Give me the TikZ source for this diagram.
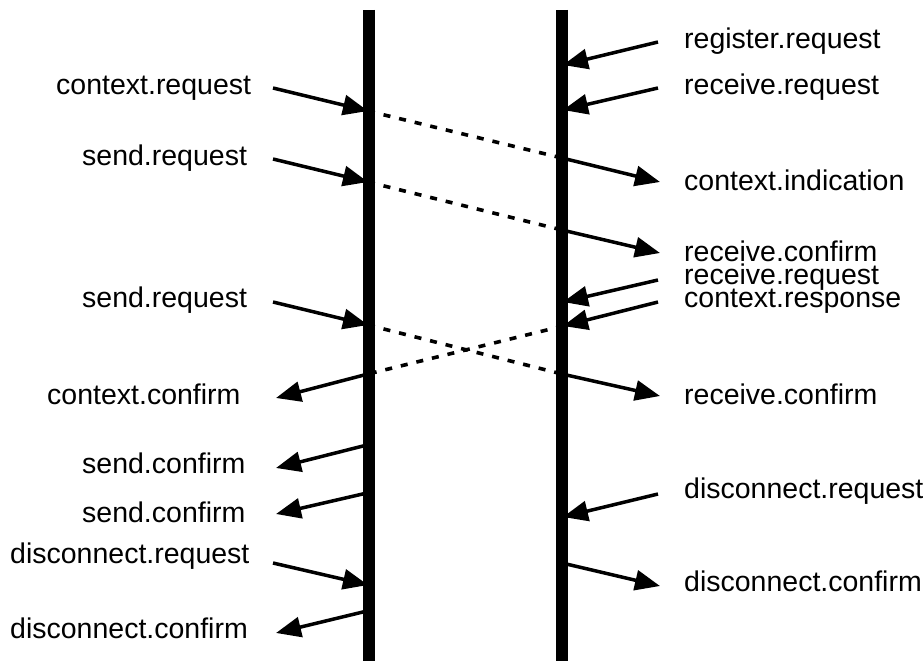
\documentclass[tikz,border=0pt]{standalone}
\usepackage{fontspec}
\setmainfont{Liberation Sans}
\usetikzlibrary{arrows.meta}
\tikzset{
  lbl/.style={inner sep=0pt, font=\fontsize{28.5}{30}\selectfont},
  lbll/.style={lbl, anchor=base west},
  bar/.style={line width=12pt},
  msg/.style={line width=3.5pt, -{Triangle[length=25pt,width=20pt]}},
  flow/.style={line width=3.6pt, dash pattern=on 7pt off 9pt},
}
\begin{document}
\begin{tikzpicture}[x=1pt,y=-1pt]
\useasboundingbox (0,0) rectangle (924,661);
% bars
\coordinate (LT) at (369,10); \coordinate (LB) at (369,661);
\coordinate (RT) at (562,10); \coordinate (RB) at (562,661);
% left side points
\coordinate (la1) at (273,88);  \coordinate (lb1) at (368,111);
\coordinate (la2) at (273,159); \coordinate (lb2) at (368,182);
\coordinate (la3) at (273,302); \coordinate (lb3) at (368,325);
\coordinate (lb4) at (368,374); \coordinate (la4) at (276,398);
\coordinate (lb5) at (367,445); \coordinate (la5) at (276,468);
\coordinate (lb6) at (367,493); \coordinate (la6) at (276,514);
\coordinate (la7) at (273,563); \coordinate (lb7) at (368,585);
\coordinate (lb8) at (367,611); \coordinate (la8) at (276,633);
% right side points
\coordinate (ra1) at (658,42);  \coordinate (rb1) at (563,65);
\coordinate (ra2) at (658,88);  \coordinate (rb2) at (563,110);
\coordinate (rb3) at (562,158); \coordinate (ra3) at (660,182);
\coordinate (rb4) at (562,230); \coordinate (ra4) at (660,253);
\coordinate (ra5) at (658,280); \coordinate (rb5) at (563,302);
\coordinate (ra6) at (658,302); \coordinate (rb6) at (563,326);
\coordinate (rb7) at (562,374); \coordinate (ra7) at (660,396);
\coordinate (ra8) at (658,494); \coordinate (rb8) at (563,517);
\coordinate (rb9) at (562,563); \coordinate (ra9) at (660,586);

% dashed flows
\draw[flow] (lb1) -- (rb3);
\draw[flow] (lb2) -- (rb4);
\draw[flow] (lb3) -- (rb7);
\draw[flow] (rb6) -- (lb4);

% bars
\draw[bar] (LT) -- (LB);
\draw[bar] (RT) -- (RB);

% left messages
\draw[msg] (la1) -- (lb1);
\draw[msg] (la2) -- (lb2);
\draw[msg] (la3) -- (lb3);
\draw[msg] (lb4) -- (la4);
\draw[msg] (lb5) -- (la5);
\draw[msg] (lb6) -- (la6);
\draw[msg] (la7) -- (lb7);
\draw[msg] (lb8) -- (la8);
% right messages
\draw[msg] (ra1) -- (rb1);
\draw[msg] (ra2) -- (rb2);
\draw[msg] (rb3) -- (ra3);
\draw[msg] (rb4) -- (ra4);
\draw[msg] (ra5) -- (rb5);
\draw[msg] (ra6) -- (rb6);
\draw[msg] (rb7) -- (ra7);
\draw[msg] (ra8) -- (rb8);
\draw[msg] (rb9) -- (ra9);

% left labels
\node[lbll] (t1) at (56,95) {context.request};
\node[lbll] (t2) at (82,165) {send.request};
\node[lbll] (t3) at (82,307) {send.request};
\node[lbll] (t4) at (47,404) {context.confirm};
\node[lbll] (t5) at (82,473) {send.confirm};
\node[lbll] (t6) at (82,522) {send.confirm};
\node[lbll] (t7) at (10,563) {disconnect.request};
\node[lbll] (t8) at (10,638) {disconnect.confirm};
% right labels
\node[lbll] (s1) at (684,49) {register.request};
\node[lbll] (s2) at (684,95) {receive.request};
\node[lbll] (s3) at (684,190) {context.indication};
\node[lbll] (s4) at (684,261) {receive.confirm};
\node[lbll] (s5) at (684,284) {receive.request};
\node[lbll] (s6) at (684,307) {context.response};
\node[lbll] (s7) at (684,404) {receive.confirm};
\node[lbll] (s8) at (684,498) {disconnect.request};
\node[lbll] (s9) at (684,591) {disconnect.confirm};
\end{tikzpicture}
\end{document}
